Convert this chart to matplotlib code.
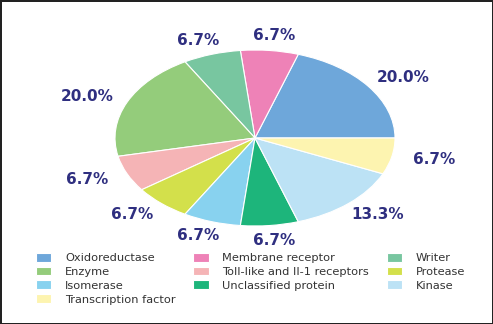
import matplotlib
matplotlib.use("Agg")
import matplotlib.pyplot as plt

categories = [
    "Oxidoreductase", "Membrane receptor", "Writer", "Enzyme",
    "Toll-like and Il-1 receptors", "Protease", "Isomerase",
    "Unclassified protein", "Kinase", "Transcription factor",
]
counts = [3, 1, 1, 3, 1, 1, 1, 1, 2, 1]
colors = [
    "#6ea7da", "#ee82b7", "#78c6a0", "#94cc7b", "#f5b4b6",
    "#d3e04b", "#88d2ef", "#1db57b", "#bce2f5", "#fdf4b0",
]

W, H = 493, 324
fig = plt.figure(figsize=(W / 100, H / 100), dpi=100,
                 facecolor="white", edgecolor="#222222", linewidth=2.0)

# elliptical pie: centre (255, 138) px, radii 140 x 88 px
cx, cy, rx, ry = 255, 138, 140, 88
xl, yl = 1.3, 1.35
ax = fig.add_axes([(cx - xl * rx) / W, (H - cy - yl * ry) / H,
                   2 * xl * rx / W, 2 * yl * ry / H])

wedges, texts, autotexts = ax.pie(
    counts, colors=colors, startangle=0, counterclock=True,
    autopct="%1.1f%%", pctdistance=1.17,
    wedgeprops=dict(edgecolor="white", linewidth=0.8),
    textprops=dict(color="#2f2f80", fontsize=11, fontweight="bold",
                   family="DejaVu Sans"),
)
for t in autotexts:
    x, y = t.get_position()
    t.set_position((x * 1.12, y))
ax.set_aspect("auto")
ax.set_xlim(-xl, xl)
ax.set_ylim(-yl, yl)
ax.axis("off")

order = [0, 3, 6, 9, 1, 4, 7, 2, 5, 8]
leg = fig.legend([wedges[i] for i in order], [categories[i] for i in order],
                 ncol=3, loc="upper left",
                 bbox_to_anchor=(36 / W, 1 - 253 / H),
                 frameon=False, borderpad=0, borderaxespad=0,
                 handlelength=1.35, handleheight=0.8, handletextpad=1.2,
                 labelspacing=0.3, columnspacing=1.55,
                 prop=dict(family="DejaVu Sans", size=8.2))
for t in leg.get_texts():
    t.set_color("#333333")

fig.savefig("out.png", dpi=100)
